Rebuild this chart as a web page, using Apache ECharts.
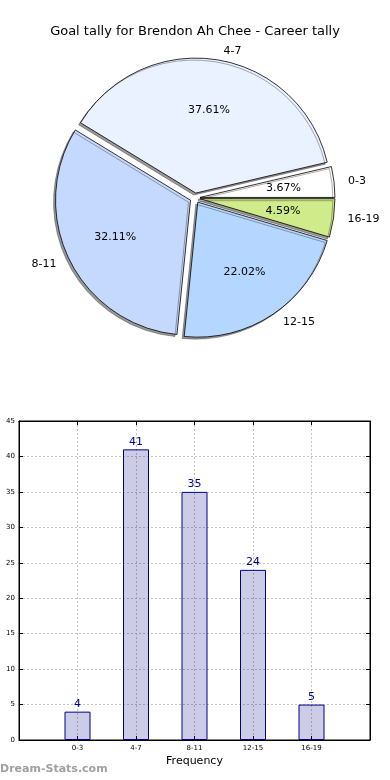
<!DOCTYPE html>
<html>
<head>
<meta charset="utf-8">
<script src="https://cdn.jsdelivr.net/npm/echarts@6/dist/echarts.min.js"></script>
<style>
html,body{margin:0;padding:0;background:#fff;}
#c{width:390px;height:780px;}
</style>
</head>
<body>
<div id="c"></div>
<script>
const titleText = 'Goal tally for Brendon Ah Chee - Career tally';
const categories = ['0-3', '4-7', '8-11', '12-15', '16-19'];
const frequencies = [4, 41, 35, 24, 5];
const sliceColors = ['#ffffff', '#eaf1ff', '#c5d9ff', '#b5d7ff', '#d0ec8a'];
const yTicks = [0, 5, 10, 15, 20, 25, 30, 35, 40, 45];
const xAxisName = 'Frequency';
const watermark = 'Dream-Stats.com';

const FONT = 'DejaVu Sans';
const cx = 195, cy = 198, R = 135, OFF = 5;

const pieData = categories.map((c, i) => ({
  name: c, value: frequencies[i], selected: true,
  itemStyle: { color: sliceColors[i] }
}));
const pieLabelData = categories.map((c, i) => ({
  name: c, value: frequencies[i], selected: true
}));
const barData = frequencies.map((v, i) => [i, v]);

const gridLine = { show: true, lineStyle: { color: '#c4c4c4', type: [2, 2], width: 1 } };
const tickStyle = { show: true, inside: true, length: 4, lineStyle: { color: '#000' } };
const lineStyle = { show: true, onZero: false, lineStyle: { color: '#000' } };

const chart = echarts.init(document.getElementById('c'), null, { renderer: 'canvas' });
chart.setOption({
  animation: false,
  backgroundColor: '#fff',
  textStyle: { fontFamily: FONT },
  title: {
    text: titleText, left: 'center', top: 20,
    textStyle: { fontFamily: FONT, fontSize: 13, fontWeight: 'normal', color: '#000' }
  },
  graphic: [{
    type: 'text', left: 0, top: 764,
    style: { text: watermark, fill: '#a0a0a0', font: 'bold 11px "DejaVu Sans"' }
  }],
  grid: {
    left: 19, right: 20, top: 421, bottom: 40,
    show: true, borderColor: '#000', borderWidth: 1, backgroundColor: 'transparent'
  },
  xAxis: [{
    type: 'value', min: -1, max: 5, interval: 1, position: 'bottom',
    name: xAxisName, nameLocation: 'middle', nameGap: 16,
    nameTextStyle: { fontFamily: FONT, fontSize: 11, color: '#000' },
    axisLine: lineStyle, axisTick: tickStyle,
    axisLabel: {
      fontFamily: FONT, fontSize: 7, color: '#000', margin: 5,
      formatter: v => (categories[v] !== undefined ? categories[v] : '')
    },
    splitLine: gridLine
  }, {
    type: 'value', min: -1, max: 5, interval: 1, position: 'top',
    axisLine: lineStyle, axisTick: tickStyle,
    axisLabel: { show: false }, splitLine: { show: false }
  }],
  yAxis: [{
    type: 'value', min: yTicks[0], max: yTicks[yTicks.length - 1], interval: 5, position: 'left',
    axisLine: lineStyle, axisTick: tickStyle,
    axisLabel: { fontFamily: FONT, fontSize: 7, color: '#000', margin: 4 },
    splitLine: gridLine
  }, {
    type: 'value', min: yTicks[0], max: yTicks[yTicks.length - 1], interval: 5, position: 'right',
    axisLine: lineStyle, axisTick: tickStyle,
    axisLabel: { show: false }, splitLine: { show: false }
  }],
  series: [{
    type: 'pie', center: [cx, cy], radius: R,
    startAngle: 0, clockwise: false,
    selectedMode: 'multiple', selectedOffset: OFF,
    avoidLabelOverlap: false,
    emphasis: { disabled: true }, silent: true,
    itemStyle: {
      borderColor: '#000', borderWidth: 0.8,
      shadowBlur: 0, shadowOffsetX: -2, shadowOffsetY: 2,
      shadowColor: 'rgba(0,0,0,0.4)'
    },
    label: {
      show: true, position: 'outside', formatter: '{b}',
      fontFamily: FONT, fontSize: 11, color: '#000'
    },
    labelLine: { show: false, length: 9, length2: 0 },
    data: pieData
  }, {
    type: 'pie', center: [cx, cy], radius: [R * 0.2, R],
    startAngle: 0, clockwise: false,
    selectedMode: 'multiple', selectedOffset: OFF,
    avoidLabelOverlap: false, percentPrecision: 2,
    emphasis: { disabled: true }, silent: true,
    itemStyle: { color: 'rgba(0,0,0,0)', borderWidth: 0 },
    label: {
      show: true, position: 'inside', formatter: '{d}%',
      fontFamily: FONT, fontSize: 11, color: '#000'
    },
    labelLine: { show: false },
    data: pieLabelData
  }, {
    type: 'bar', xAxisIndex: 0, yAxisIndex: 0,
    barWidth: 26,
    itemStyle: { color: 'rgba(0,0,128,0.2)', borderColor: '#000080', borderWidth: 1 },
    label: { show: true, position: 'top', distance: 2, fontFamily: FONT, fontSize: 11, color: '#00008b' },
    emphasis: { disabled: true },
    data: barData
  }]
});
</script>
</body>
</html>
